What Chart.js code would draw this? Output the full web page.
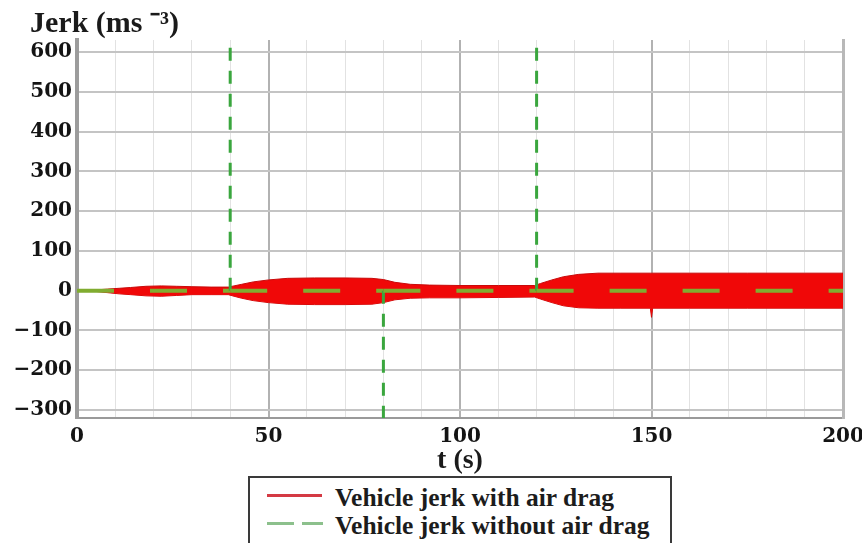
<!DOCTYPE html>
<html><head><meta charset="utf-8">
<script src="https://cdn.jsdelivr.net/npm/chart.js@4/dist/chart.umd.min.js"></script>
<style>
html,body{margin:0;padding:0;background:#fff;overflow:hidden;}
#wrap{position:relative;width:862px;height:543px;background:#fff;}
#c{position:absolute;left:0;top:0;}
#legendBox{position:absolute;left:248px;top:476px;width:424px;height:90px;border:2px solid #3a3a3a;box-sizing:border-box;background:#fff;}
.sw{position:absolute;height:3px;}
.lbl{position:absolute;left:335px;font-family:"Liberation Serif",serif;font-weight:bold;font-size:25.5px;line-height:28px;color:#1c1c1c;white-space:nowrap;}
</style></head><body>
<div id="wrap">
<canvas id="c" width="862" height="543"></canvas>
<div id="legendBox"></div>
<div class="sw" style="left:267px;top:493.5px;width:55px;background:rgb(212,58,68);"></div>
<div class="lbl" style="top:484px;">Vehicle jerk with air drag</div>
<div class="sw" style="left:267px;top:521.5px;width:56px;background:repeating-linear-gradient(to right,rgb(140,192,140) 0 27px,transparent 27px 35px);"></div>
<div class="lbl" style="top:512px;">Vehicle jerk without air drag</div>
</div>
<script>
// ---- data ----
const times     = [0, 3, 5, 8, 11, 14, 18, 22, 26, 30, 35, 39.5, 41, 43, 46, 50, 55, 62, 70, 77, 80, 83, 87, 92, 100, 110, 119.5, 121, 124, 127, 131, 136, 142, 149.7, 150, 150.3, 160, 175, 190, 200];
const upperJerk = [0, 1, 2, 4, 6, 8, 11, 12, 11, 10, 9, 9, 12, 16, 22, 27, 31, 32, 32, 31, 28, 21, 16, 14, 13, 13, 13, 18, 27, 35, 41, 44, 44, 44, 44, 44, 44, 44, 44, 44];
const lowerJerk = [0, -1, -2, -5, -8, -10, -13, -14, -12, -10, -10, -10, -14, -19, -25, -30, -34, -35, -35, -34, -30, -23, -19, -18, -18, -17, -16, -21, -30, -38, -43, -44, -44, -44, -67, -44, -44, -44, -44, -44];
const noDragTimes = [0, 40, 40, 40, 40, 80, 80, 80, 80, 120, 120, 120, 120, 200];
const noDragJerk  = [0, 0, 700, null, 0, 0, -400, null, 0, 0, 700, null, 0, 0];
const xGridValues = [0,10,20,30,40,50,60,70,80,90,100,110,120,130,140,150,160,170,180,190,200];
const xTickValues = [0, 50, 100, 150, 200];
const xTickLabels = ['0', '50', '100', '150', '200'];
const yGridValues = [-300,-250,-200,-150,-100,-50,0,50,100,150,200,250,300,350,400,450,500,550,600];
const yTickValues = [600, 500, 400, 300, 200, 100, 0, -100, -200, -300];
const yTickLabels = ['600', '500', '400', '300', '200', '100', '0', '\u2212100', '\u2212200', '\u2212300'];

const tickFont = {family: 'DejaVu Serif', weight: 'bold', size: 20};
const isVert = c => c.p0.parsed.x === c.p1.parsed.x;

const titleShift = {
  id: 'titleShift',
  afterLayout(chart) { if (chart.titleBlock) { chart.titleBlock.left = 30; } }
};

new Chart(document.getElementById('c'), {
  type: 'line',
  plugins: [titleShift],
  data: {
    datasets: [
      {
        label: 'Vehicle jerk without air drag',
        data: noDragTimes.map((t, i) => ({x: t, y: noDragJerk[i]})),
        borderColor: 'rgb(128,172,48)',
        borderWidth: 4,
        borderDash: [37, 36],
        pointRadius: 0,
        fill: false,
        spanGaps: false,
        segment: {
          borderColor: c => isVert(c) ? 'rgb(58,166,62)' : undefined,
          borderWidth: c => isVert(c) ? 3 : undefined,
          borderDash: c => isVert(c) ? [13, 10] : undefined
        }
      },
      {
        label: 'Vehicle jerk with air drag',
        data: times.map((t, i) => ({x: t, y: upperJerk[i]})),
        borderColor: 'rgb(200,10,10)',
        backgroundColor: 'rgb(240,8,8)',
        borderWidth: 1,
        pointRadius: 0,
        fill: '+1'
      },
      {
        label: 'Vehicle jerk with air drag (lower)',
        data: times.map((t, i) => ({x: t, y: lowerJerk[i]})),
        borderColor: 'rgb(200,10,10)',
        borderWidth: 1,
        pointRadius: 0,
        fill: false
      }
    ]
  },
  options: {
    responsive: false,
    animation: false,
    devicePixelRatio: 1,
    layout: {padding: {left: 0, right: 19, top: 0, bottom: 65}},
    plugins: {
      legend: {display: false},
      tooltip: {enabled: false},
      title: {
        display: true,
        text: 'Jerk (ms \u207B\u00B3)',
        align: 'start',
        color: '#1a1a1a',
        font: {family: 'Liberation Serif', weight: 'bold', size: 30, lineHeight: '31px'},
        padding: {top: 9, bottom: 0}
      }
    },
    scales: {
      x: {
        type: 'linear',
        min: 0, max: 200,
        afterBuildTicks: s => { s.ticks = xGridValues.map(v => ({value: v})); },
        afterFit: s => { s.height = 60; s.paddingLeft = 0; s.paddingRight = 0; },
        ticks: {
          autoSkip: false, maxRotation: 0, padding: 7, color: '#141414', font: tickFont,
          callback: v => { const i = xTickValues.indexOf(v); return i >= 0 ? xTickLabels[i] : ''; }
        },
        grid: {
          drawTicks: false,
          color: c => (c.tick && c.tick.value % 50 === 0) ? '#b2b2b2' : '#e2e2e2',
          lineWidth: c => (c.tick && c.tick.value % 50 === 0) ? 2 : 1
        },
        border: {display: true, color: '#9a9a9a', width: 2},
        title: {
          display: true, text: 't (s)', color: '#1a1a1a',
          font: {family: 'Liberation Serif', weight: 'bold', size: 28, lineHeight: 1.2},
          padding: {top: 0, bottom: 0}
        }
      },
      y: {
        type: 'linear',
        min: -320, max: 630,
        afterBuildTicks: s => { s.ticks = yGridValues.map(v => ({value: v})); },
        afterFit: s => { s.width = 77; s.paddingTop = 0; s.paddingBottom = 0; },
        ticks: {
          padding: 5, color: '#141414', font: tickFont,
          callback: v => { const i = yTickValues.indexOf(v); return i >= 0 ? yTickLabels[i] : ''; }
        },
        grid: {
          drawTicks: false,
          color: c => (c.tick && c.tick.value % 100 === 0) ? '#c4c4c4' : '#e4e4e4',
          lineWidth: c => (c.tick && c.tick.value % 100 === 0) ? 2 : 1
        },
        border: {display: true, color: '#9c9c9c', width: 4}
      },
      y2: {
        type: 'linear',
        position: 'right',
        min: 0, max: 1,
        afterFit: s => { s.width = 0; s.paddingTop = 0; s.paddingBottom = 0; },
        ticks: {display: false},
        grid: {drawOnChartArea: false, drawTicks: false},
        border: {display: true, color: '#b8b8b8', width: 3}
      }
    }
  }
});
</script>
</body></html>
